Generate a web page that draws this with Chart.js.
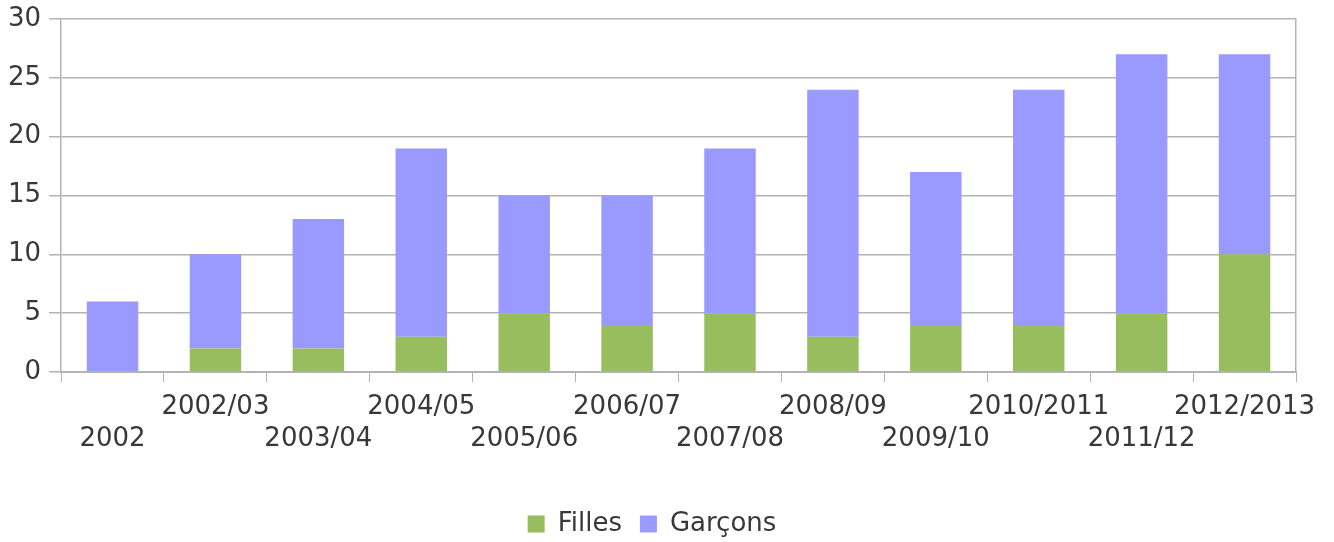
<!DOCTYPE html>
<html>
<head>
<meta charset="utf-8">
<script src="https://cdn.jsdelivr.net/npm/chart.js@4/dist/chart.umd.min.js"></script>
<style>
html, body { margin: 0; padding: 0; background: #fff; }
#wrap { width: 1334px; height: 542px; }
</style>
</head>
<body>
<div id="wrap"><canvas id="barChart" width="1334" height="542"></canvas></div>
<script>
const categories = ["2002","2002/03","2003/04","2004/05","2005/06","2006/07","2007/08","2008/09","2009/10","2010/2011","2011/12","2012/2013"];
const filles = [0,2,2,3,5,4,5,3,4,4,5,10];
const garcons = [6,8,11,16,10,11,14,21,13,20,22,17];
const yTicks = [0,5,10,15,20,25,30];

const textColor = "#383838";
const lineColor = "#b3b3b3";

// odd labels on the upper row, even ones on the lower row
const labels = categories.map((c, i) => i % 2 === 1 ? [c, ""] : ["", c]);

Chart.defaults.font.family = "'DejaVu Sans', Verdana, sans-serif";
Chart.defaults.font.size = 26;
Chart.defaults.color = textColor;

new Chart(document.getElementById("barChart"), {
type: "bar",
data: {
labels: labels,
datasets: [{
label: "Filles",
data: filles,
backgroundColor: "#97bd5e",
barPercentage: 0.5,
categoryPercentage: 1
},{
label: "Garçons",
data: garcons,
backgroundColor: "#9999ff",
barPercentage: 0.5,
categoryPercentage: 1
}]
},
options: {
responsive: false,
animation: false,
layout: { padding: { left: 0, right: 30, top: 0, bottom: -5 } },
plugins: {
legend: {
position: "bottom",
labels: {
color: textColor,
boxWidth: 17,
boxHeight: 17,
padding: 18,
font: { size: 26 }
}
},
tooltip: { enabled: false }
},
scales: {
x: {
stacked: true,
grid: { drawOnChartArea: false, drawTicks: true, tickLength: 10, color: lineColor, offset: true },
border: { color: lineColor, width: 2 },
ticks: { maxRotation: 0, autoSkip: false, padding: 10, color: textColor },
afterFit: s => { s.height = 121; }
},
y: {
stacked: true,
min: 0,
max: 30,
afterBuildTicks: axis => { axis.ticks = yTicks.map(v => ({ value: v })); },
grid: { color: lineColor, tickLength: 12, lineWidth: 1.5 },
border: { color: lineColor, width: 1.5 },
ticks: { padding: 8, color: textColor, font: { size: 26, lineHeight: 0.85 } }
},
y2: {
position: "right",
min: 0,
max: 30,
grid: { display: false },
border: { color: lineColor, width: 1.5 },
ticks: { display: false }
}
}
}
});
</script>
</body>
</html>
